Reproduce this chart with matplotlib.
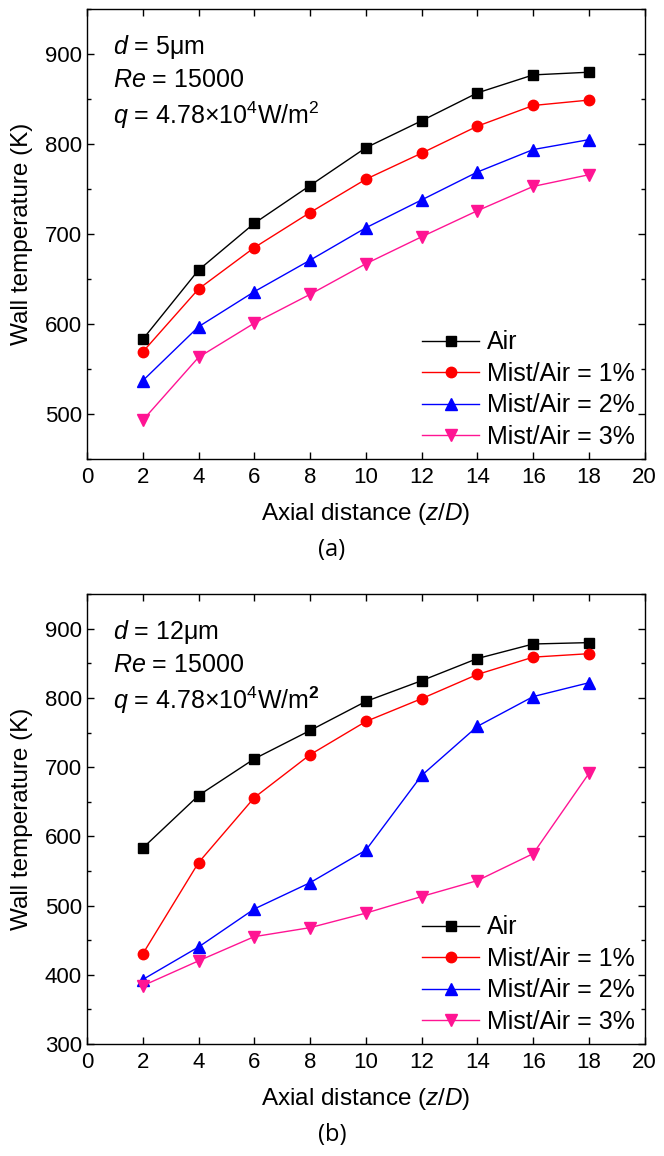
import numpy as np
import matplotlib
matplotlib.use('Agg')
import matplotlib.pyplot as plt
from matplotlib.ticker import MultipleLocator

plt.rcParams['font.family'] = ['Liberation Sans', 'DejaVu Sans']
plt.rcParams['mathtext.fontset'] = 'custom'
plt.rcParams['mathtext.rm'] = 'Liberation Sans'
plt.rcParams['mathtext.it'] = 'Liberation Sans:italic'
plt.rcParams['mathtext.bf'] = 'Liberation Sans:bold'

###############################################################################
# data

zd = [2, 4, 6, 8, 10, 12, 14, 16, 18]
labels = ['Air', 'Mist/Air = 1%', 'Mist/Air = 2%', 'Mist/Air = 3%']

# (a) d = 5um
a_air  = [583, 660, 712, 754, 796, 826, 857, 877, 880]
a_mist1 = [569, 639, 685, 724, 761, 790, 820, 843, 849]
a_mist2 = [537, 597, 636, 671, 707, 738, 769, 794, 805]
a_mist3 = [493, 563, 601, 633, 667, 697, 726, 753, 766]

# (b) d = 12um
b_air  = [583, 659, 712, 753, 795, 825, 857, 878, 880]
b_mist1 = [430, 562, 656, 718, 766, 799, 834, 859, 864]
b_mist2 = [393, 440, 495, 533, 580, 688, 759, 802, 822]
b_mist3 = [384, 420, 455, 468, 489, 513, 536, 575, 691]

notes_a = [r'$\it{d}$ = 5μm', r'$\it{Re}$ = 15000', r'$\it{q}$ = 4.78×10$^4$W/m$^2$']
notes_b = [r'$\it{d}$ = 12μm', r'$\it{Re}$ = 15000', r'$\it{q}$ = 4.78×10$^4$W/m$^\mathbf{2}$']

###############################################################################

colors = ['black', 'red', 'blue', '#ff1493']
markers = ['s', 'o', '^', 'v']
msizes = [6.5, 7.5, 8.5, 8.5]

fig = plt.figure(figsize=(6.64, 11.56), dpi=100)
ax1 = fig.add_axes([0.131, 0.603, 0.840, 0.389])
ax2 = fig.add_axes([0.131, 0.097, 0.840, 0.389])

def draw(ax, series, notes, ylim, yticks, tag):
    for s, c, m, ms, lab in zip(series, colors, markers, msizes, labels):
        ax.plot(zd, s, color=c, marker=m, ms=ms, lw=1.0, label=lab)
    ax.set_xlim(0, 20)
    ax.set_ylim(*ylim)
    ax.set_xticks(np.arange(0, 21, 2))
    ax.set_yticks(yticks)
    ax.yaxis.set_minor_locator(MultipleLocator(50))
    ax.tick_params(which='both', direction='in', top=True, right=True,
                   labelsize=16, width=1.0)
    ax.tick_params(which='major', length=5)
    ax.tick_params(which='minor', length=3)
    ax.tick_params(axis='x', pad=6)
    for sp in ax.spines.values():
        sp.set_linewidth(1.0)
    ax.set_xlabel(r'Axial distance ($\it{z}$/$\it{D}$)', fontsize=17.5, labelpad=9)
    ax.set_ylabel('Wall temperature (K)', fontsize=17.5)
    ax.yaxis.set_label_coords(-0.097, 0.5)
    for t, yy in zip(notes, [0.916, 0.842, 0.764]):
        ax.text(0.047, yy, t, transform=ax.transAxes, fontsize=18, va='center')
    ax.legend(loc='lower right', frameon=False, fontsize=18, handlelength=2.3,
              handletextpad=0.3, labelspacing=0.3, borderaxespad=0.2, borderpad=0.2)
    bb = ax.get_position()
    fig.text(0.5, bb.y0 - 0.079, tag, ha='center', va='center', fontsize=17,
             family=['Open Sans', 'DejaVu Sans'])

draw(ax1, [a_air, a_mist1, a_mist2, a_mist3], notes_a, (450, 950),
     [500, 600, 700, 800, 900], '(a)')
draw(ax2, [b_air, b_mist1, b_mist2, b_mist3], notes_b, (300, 950),
     [300, 400, 500, 600, 700, 800, 900], '(b)')

fig.savefig('out.png', dpi=100)
